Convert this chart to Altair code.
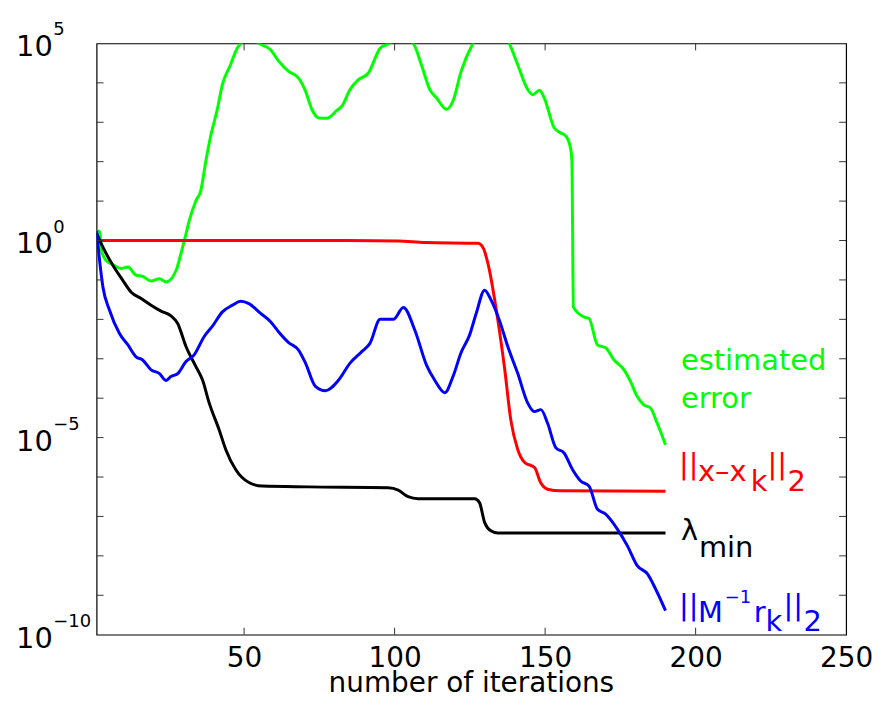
import altair as alt
import pandas as pd

# ---------------- data (values given as log10) ----------------
red_iter = [1, 68, 101, 110, 127.7, 129.5, 131, 134.3, 136.6, 138.6, 140.9, 143.2, 146.5, 148.5, 150.8, 155, 190]
red_log = [0, 0, -0.01, -0.05, -0.07, -0.2, -0.58, -2.02, -3.28, -4.55, -5.30, -5.63, -5.76, -6.14, -6.31, -6.35, -6.36]

black_iter = [1, 3.1, 6.4, 9.7, 12.5, 15.8, 19.1, 22.4, 25.7, 27.9, 30.7, 34.0, 36.2, 38.4, 41.7, 43.9,
              47.2, 51.6, 56.0, 71.4, 97.9, 101.2, 104.5, 107.8, 126.6, 128.2, 129.9, 132.1, 134.3, 190]
black_log = [0.18, -0.17, -0.63, -1.01, -1.31, -1.47, -1.64, -1.79, -1.91, -2.10, -2.69, -3.20, -3.54, -4.12,
             -4.80, -5.30, -5.81, -6.14, -6.23, -6.25, -6.27, -6.33, -6.50, -6.55, -6.55, -6.65, -7.15, -7.37,
             -7.42, -7.42]

blue_iter = [1.0, 2.0, 3.1, 5.3, 8.6, 11.4, 14.1, 16.3, 19.1, 21.8, 24.1, 25.7, 27.9, 30.7, 33.4, 36.7, 39.5,
             42.8, 46.1, 48.9, 51.6, 55.5, 58.8, 61.5, 64.8, 68.1, 70.4, 73.7, 77.0, 81.4, 85.2, 89.1, 91.8,
             95.2, 99.6, 102.9, 106.7, 110.6, 113.3, 116.7, 119.4, 122.1, 124.9, 127.1, 129.9, 132.1, 134.8,
             137.6, 140.9, 144.2, 146.4, 148.6, 150.8, 153.6, 156.3, 159.1, 161.8, 164.6, 167.4, 170.1, 174.0,
             177.3, 180.6, 184.0, 186.7, 190]
blue_log = [0.25, -0.51, -1.18, -1.77, -2.36, -2.65, -2.95, -3.03, -3.28, -3.37, -3.55, -3.45, -3.38, -3.07,
            -2.90, -2.44, -2.17, -1.81, -1.64, -1.54, -1.60, -1.85, -2.06, -2.32, -2.59, -2.78, -3.11, -3.70,
            -3.81, -3.54, -3.11, -2.82, -2.61, -2.00, -2.00, -1.70, -2.27, -3.16, -3.54, -3.86, -3.45, -2.84,
            -2.40, -1.85, -1.26, -1.52, -2.02, -2.69, -3.37, -4.12, -4.34, -4.29, -4.63, -5.26, -5.39, -5.81,
            -6.10, -6.23, -6.82, -6.94, -7.32, -7.74, -8.25, -8.46, -8.84, -9.39]

green_iter = [1.0, 2.0, 2.6, 4.2, 6.4, 9.2, 11.4, 14.1, 16.3, 19.1, 21.8, 24.1, 27.4, 29.0, 30.7, 31.8, 34.0,
              35.6, 37.3, 38.9, 41.1, 42.8, 45.5, 47.7, 48.9, 52.0, 54.9, 58.8, 61.5, 64.8, 68.1, 70.4, 72.5,
              74.8, 77.5, 80.8, 82.5, 85.2, 88.0, 91.3, 95.2, 97.3, 103.0, 106.2, 108.9, 111.7, 113.9, 117.2,
              119.4, 122.1, 126.0, 132.0, 138.1, 140.9, 144.2, 145.9, 148.1, 149.7, 153.0, 155.2, 156.9, 158.5,
              158.9, 159.4, 162.9, 164.6, 167.4, 170.1, 172.9, 176.2, 178.4, 180.6, 182.8, 185.0, 187.2, 190]
green_log = [0.25, 0.23, -0.25, -0.51, -0.61, -0.71, -0.67, -0.88, -0.91, -1.03, -0.97, -1.05, -0.76, -0.34,
             0.17, 0.51, 1.01, 1.26, 2.02, 2.65, 3.33, 3.96, 4.46, 4.88, 5.0, 5.2, 5.0, 4.84, 4.55, 4.29, 4.12,
             3.79, 3.33, 3.11, 3.10, 3.30, 3.41, 3.83, 4.08, 4.25, 4.88, 4.97, 5.15, 5.0, 4.46, 3.83, 3.62,
             3.33, 3.54, 4.29, 5.0, 5.5, 5.0, 4.46, 3.83, 3.70, 3.81, 3.62, 2.86, 2.73, 2.65, 2.32, 2.0, -1.69,
             -1.94, -1.98, -2.65, -2.72, -3.03, -3.28, -3.58, -3.96, -4.17, -4.25, -4.63, -5.18]

series_names = ["estimated error", "||x-x_k||_2", "lambda_min", "||M^-1 r_k||_2"]
series_colors = ["#00ff00", "#ff0000", "#000000", "#0000ff"]

x_ticks = [50, 100, 150, 200, 250]
x_title = "number of iterations"
y_minor = [1e-9, 1e-8, 1e-7, 1e-6, 1e-5, 1e-4, 1e-3, 1e-2, 1e-1, 1e0, 1e1, 1e2, 1e3, 1e4]
y_label_vals = [1e5, 1e0, 1e-5, 1e-10]
y_label_exp = ["5", "0", "\u22125", "\u221210"]

# curve labels: text pieces anchored in data coordinates (iteration, log10 value)
lab_text = ["estimated", "error",
            "||", "x\u2013x", "k", "||", "2",
            "\u03bb", "min",
            "||", "M", "\u22121", "r", "k", "||", "2"]
lab_iter = [195.13, 195.13,
            194.47, 200.76, 218.28, 223.91, 230.52,
            195.13, 201.09,
            194.47, 200.76, 209.69, 219.28, 223.24, 229.20, 235.81]
lab_log = [-3.28, -4.24,
           -5.93, -6.10, -6.36, -5.93, -6.36,
           -7.61, -8.02,
           -9.49, -9.67, -9.19, -9.67, -9.90, -9.49, -9.90]
lab_color = ["#00ff00"] * 2 + ["#ff0000"] * 5 + ["#000000"] * 2 + ["#0000ff"] * 7
lab_size = [29, 29,
            29, 29, 29, 29, 29,
            29, 29,
            29, 29, 18, 29, 29, 29, 29]

# ---------------- build tables ----------------
frames = []
for name, xs, ls in zip(series_names,
                        [green_iter, red_iter, black_iter, blue_iter],
                        [green_log, red_log, black_log, blue_log]):
    frames.append(pd.DataFrame({"iter": xs, "val": [10.0 ** v for v in ls], "series": name}))
lines_df = pd.concat(frames, ignore_index=True)

labels_df = pd.DataFrame({"text": lab_text, "iter": lab_iter,
                          "val": [10.0 ** v for v in lab_log],
                          "color": lab_color, "size": lab_size})
xt_df = pd.DataFrame({"iter": x_ticks[:-1]})
yt_df = pd.DataFrame({"val": y_minor})
yl_df = pd.DataFrame({"val": y_label_vals, "exp": y_label_exp, "base": ["10"] * 4})
title_df = pd.DataFrame({"t": [x_title]})

FONT = "DejaVu Sans"
W, H = 753, 594

x_enc = alt.X("iter:Q",
              scale=alt.Scale(domain=[1, 250], nice=False, zero=False),
              axis=alt.Axis(values=x_ticks, ticks=False, domain=False, grid=False,
                            labelFont=FONT, labelFontSize=28, labelColor="black",
                            labelPadding=10, labelFlush=False, title=None))
y_enc = alt.Y("val:Q", scale=alt.Scale(type="log", domain=[1e-10, 1e5], nice=False), axis=None)

lines = alt.Chart(lines_df).mark_line(strokeWidth=3, clip=True, interpolate="monotone").encode(
    x=x_enc, y=y_enc,
    color=alt.Color("series:N", scale=alt.Scale(domain=series_names, range=series_colors), legend=None),
    detail="series:N",
)

tick_col = "#333333"
xt_bottom = alt.Chart(xt_df).mark_rule(color=tick_col, strokeWidth=1).encode(
    x=x_enc, y=alt.value(H), y2=alt.value(H - 7))
xt_top = alt.Chart(xt_df).mark_rule(color=tick_col, strokeWidth=1).encode(
    x=x_enc, y=alt.value(0), y2=alt.value(7))
yt_left = alt.Chart(yt_df).mark_rule(color=tick_col, strokeWidth=1).encode(
    y=y_enc, x=alt.value(0), x2=alt.value(7))
yt_right = alt.Chart(yt_df).mark_rule(color=tick_col, strokeWidth=1).encode(
    y=y_enc, x=alt.value(W), x2=alt.value(W - 7))

y_base = alt.Chart(yl_df).mark_text(font=FONT, fontSize=29, align="right", baseline="alphabetic",
                                    dy=13, color="black").encode(
    y=y_enc, x=alt.value(-44), text="base:N")
y_exp = alt.Chart(yl_df).mark_text(font=FONT, fontSize=18, align="left", baseline="alphabetic",
                                   dy=-8, color="black").encode(
    y=y_enc, x=alt.value(-43.5), text="exp:N")

x_title_mark = alt.Chart(title_df).mark_text(font=FONT, fontSize=28, align="center",
                                             baseline="alphabetic", color="black").encode(
    x=alt.value(W / 2), y=alt.value(H + 58), text="t:N")

labels = alt.Chart(labels_df).mark_text(font=FONT, align="left", baseline="alphabetic").encode(
    x=x_enc, y=y_enc, text="text:N",
    color=alt.Color("color:N", scale=None),
    size=alt.Size("size:Q", scale=None),
)

chart = alt.layer(lines, xt_bottom, xt_top, yt_left, yt_right, y_base, y_exp,
                  x_title_mark, labels).properties(
    width=W, height=H,
    background="white",
    padding={"left": 89, "top": 34, "right": 28, "bottom": 61},
    autosize=alt.AutoSizeParams(type="none"),
).configure_view(stroke="black", strokeWidth=1.2)

chart.save("out.html", embed_options={"renderer": "svg", "actions": False})
